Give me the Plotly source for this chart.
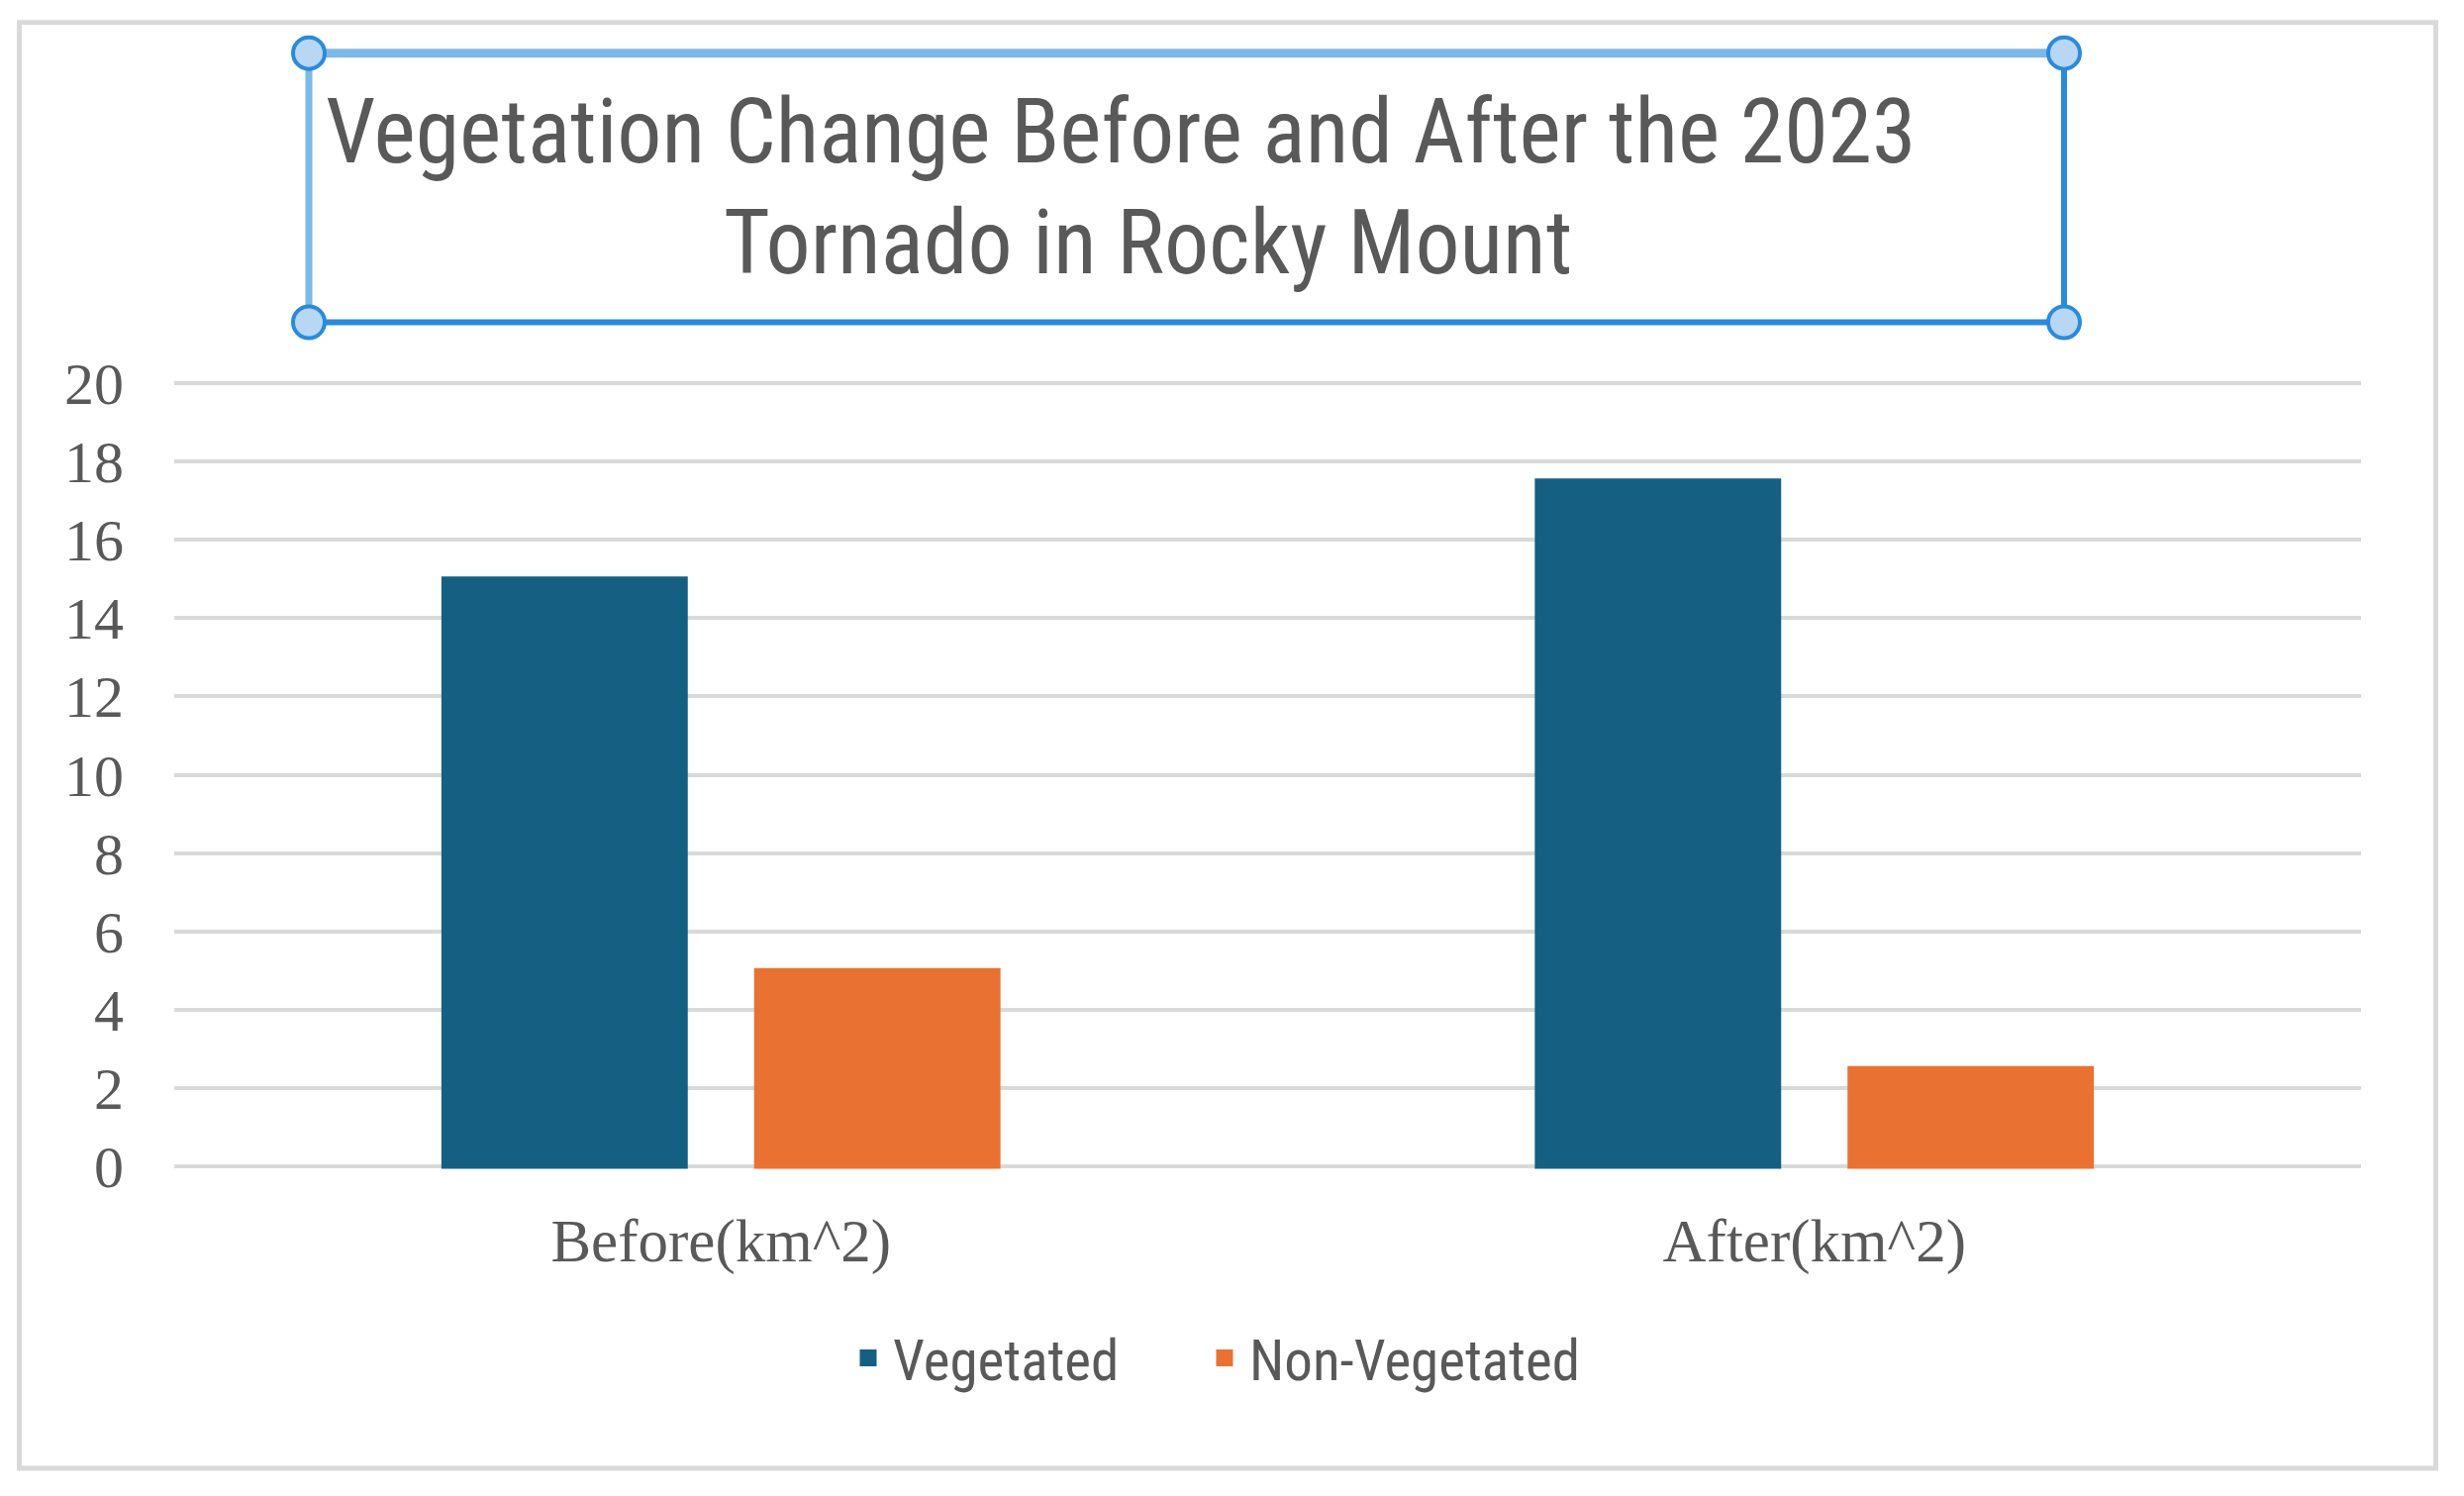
import plotly.graph_objects as go

# ---- data ----
categories = ["Before(km^2)", "After(km^2)"]
vegetated = [15.0, 17.5]
non_vegetated = [5.0, 2.5]
series_names = ["Vegetated", "Non-Vegetated"]
y_ticks = [0, 2, 4, 6, 8, 10, 12, 14, 16, 18, 20]
title_lines = ["Vegetation Change Before and After the 2023", "Tornado in Rocky Mount"]

# ---- layout geometry (pixels) ----
W, H = 2489, 1511
Y0_PX, Y20_PX = 1178.0, 386.5          # pixel rows of 0 and 20
UNIT = (Y0_PX - Y20_PX) / 20.0
EXT = 0.1                               # small range extension so edge gridlines draw
L, R = 176, 104
T = Y20_PX - EXT * UNIT
B = H - (Y0_PX + EXT * UNIT)
PW = W - L - R
PH = H - T - B


def px(x):
    return (x - L) / PW


def py(y):
    return (H - B - y) / PH


BLUE = "#156082"
ORANGE = "#E97132"
TXT = "#595959"
GRID = "#D9D9D9"
NARROW = "Liberation Sans Narrow, Arial Narrow, Roboto Condensed, sans-serif"
SERIF = "Liberation Serif, Times New Roman, serif"

fig = go.Figure()
fig.add_trace(go.Bar(name=series_names[0], x=categories, y=vegetated, legendwidth=305,
                     marker=dict(color=BLUE, line=dict(color=BLUE, width=5))))
fig.add_trace(go.Bar(name=series_names[1], x=categories, y=non_vegetated, legendwidth=360,
                     marker=dict(color=ORANGE, line=dict(color=ORANGE, width=5))))

shapes = []
# outer chart border
shapes.append(dict(type="rect", xref="paper", yref="paper",
                   x0=px(19.5), x1=px(2460.5), y0=py(1483), y1=py(22),
                   line=dict(color=GRID, width=5), layer="below"))
# title selection box
bx0, bx1, by0, by1 = 312, 2085, 53, 325
LIGHT = "#7DB9E8"
DARK = "#2B8BDA"
shapes.append(dict(type="line", xref="paper", yref="paper", x0=px(bx0), x1=px(bx1),
                   y0=py(by0), y1=py(by0), line=dict(color=LIGHT, width=9)))
shapes.append(dict(type="line", xref="paper", yref="paper", x0=px(bx0), x1=px(bx0),
                   y0=py(by0), y1=py(by1), line=dict(color=LIGHT, width=7)))
shapes.append(dict(type="line", xref="paper", yref="paper", x0=px(bx0), x1=px(bx1),
                   y0=py(by1), y1=py(by1), line=dict(color=DARK, width=6)))
shapes.append(dict(type="line", xref="paper", yref="paper", x0=px(bx1), x1=px(bx1),
                   y0=py(by0), y1=py(by1), line=dict(color=DARK, width=6)))
for cx, cy in [(bx0, by0), (bx1, by0), (bx0, by1), (bx1, by1)]:
    shapes.append(dict(type="circle", xref="paper", yref="paper",
                       xsizemode="pixel", ysizemode="pixel",
                       xanchor=px(cx), yanchor=py(cy),
                       x0=-16, x1=16, y0=-16, y1=16,
                       fillcolor="#B7D7F4", line=dict(color=DARK, width=4)))

title_font = dict(family=NARROW, size=90, color=TXT)
annotations = [
    dict(text=title_lines[0], xref="paper", yref="paper", x=px(1132), y=py(133),
         xanchor="center", yanchor="middle", showarrow=False, font=title_font),
    dict(text=title_lines[1], xref="paper", yref="paper", x=px(1159), y=py(245),
         xanchor="center", yanchor="middle", showarrow=False, font=title_font),
]

fig.update_layout(
    width=W, height=H,
    margin=dict(l=L, r=R, t=T, b=B, pad=0),
    paper_bgcolor="white", plot_bgcolor="white",
    barmode="group", bargap=0.428, bargroupgap=0.228,
    shapes=shapes, annotations=annotations,
    showlegend=True,
    legend=dict(orientation="h", x=px(852), y=py(1372), xanchor="left", yanchor="middle",
                font=dict(family=NARROW, size=57, color=TXT),
                itemwidth=40, entrywidthmode="pixels",
                traceorder="normal", bgcolor="rgba(0,0,0,0)"),
    xaxis=dict(showgrid=False, showline=False, zeroline=False, ticks="",
               tickfont=dict(family=SERIF, size=61, color=TXT),
               ticklabelstandoff=30),
    yaxis=dict(range=[-EXT, 20 + EXT], tickvals=y_ticks, showgrid=True, gridcolor=GRID, gridwidth=4,
               zeroline=False, showline=False, ticks="",
               tickfont=dict(family=SERIF, size=60, color=TXT),
               ticklabelstandoff=50),
)

fig.write_html("out.html", config={"displayModeBar": False},
               post_script="document.body.style.margin='0';document.body.style.overflow='hidden';")
